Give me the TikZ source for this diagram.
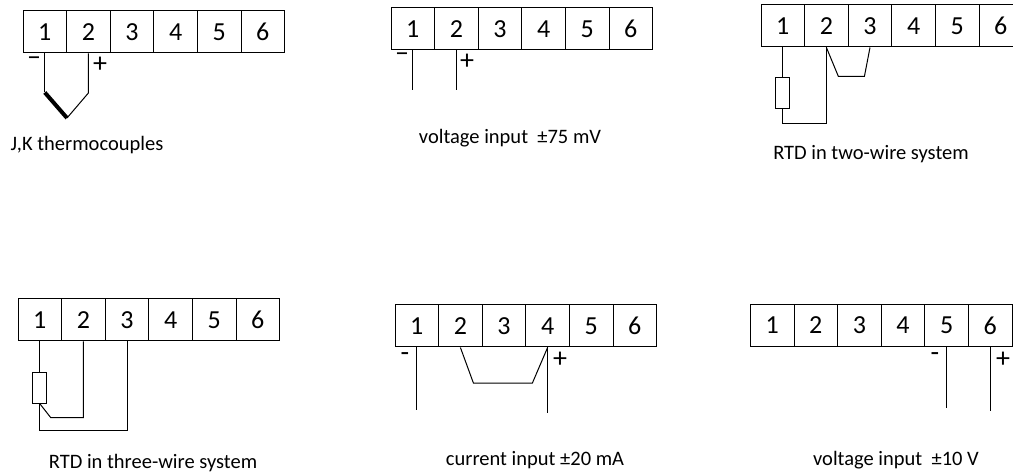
\documentclass[tikz,border=0pt]{standalone}
\usepackage{fontspec}
\setmainfont{Carlito}
\usetikzlibrary{positioning}
\tikzstyle{cell} = [draw, minimum width=43.6pt, minimum height=42pt, inner sep=0pt, font=\fontsize{26}{26}\selectfont]
\tikzstyle{rtd} = [draw, minimum width=14pt, minimum height=31pt, inner sep=0pt]
\tikzstyle{caption} = [font=\fontsize{20.5}{22}\selectfont]
\tikzstyle{pole} = [inner sep=0pt, font=\fontsize{28}{28}\selectfont]

\begin{document}
\begin{tikzpicture}[x=1pt, y=-1pt, line width=1pt]
    \useasboundingbox (0,0) rectangle (1013,473);
    % terminal strips
    \foreach \i in {1,...,6} {
        \node[cell] (tc\i) at ({23+(\i-0.5)*43.6},32) {\i};
        \node[cell] (mv\i) at ({391+(\i-0.5)*43.6},29) {\i};
        \node[cell] (rtw\i) at ({761+(\i-0.5)*43.6},26) {\i};
        \node[cell] (rth\i) at ({18+(\i-0.5)*43.6},320) {\i};
        \node[cell] (cur\i) at ({395+(\i-0.5)*43.6},326) {\i};
        \node[cell] (vol\i) at ({750.4+(\i-0.5)*43.6},325.5) {\i};
    }

    % J,K thermocouples
    \coordinate (tcj) at (67,118);
    \draw (tc1.south) -- ++(0,39) coordinate (tcn);
    \draw[line width=4pt] (tcn) -- (tcj);
    \draw (tcj) -- (tc2.south |- 0,93) -- (tc2.south);
    \node[pole] (tcm) at (34,61) {–};
    \node[pole] (tcp) at (100,65) {+};
    \node[caption] (tct) at (87,145) {J,K thermocouples};

    % voltage input 75 mV
    \draw (mv1.south) -- ++(0,40) coordinate (mva);
    \draw (mv2.south) -- ++(0,40) coordinate (mvb);
    \node[pole] (mvm) at (402,57) {–};
    \node[pole] (mvp) at (467,62) {+};
    \node[caption] (mvt) at (510,138.5) {voltage input\ \ ±75 mV};

    % RTD two-wire
    \node[rtd] (rtwr) at (782.8,93.5) {};
    \draw (rtw1.south) -- (rtwr.north);
    \draw (rtwr.south) -- ++(0,13.7) -| (rtw2.south);
    \draw (rtw2.south) -- ++(12,29) -- ++(26,0) -- (rtw3.south);
    \node[caption] (rtwt) at (871,154.5) {RTD in two-wire system};

    % RTD three-wire
    \node[rtd] (rthr) at (39.8,387.7) {};
    \draw (rth1.south) -- (rthr.north);
    \draw (rthr.south) -- ++(11,14) -| (rth2.south);
    \draw (rthr.south) -- ++(0,26.3) -| (rth3.south);
    \node[caption] (rtht) at (153,463.5) {RTD in three-wire system};

    % current input 20 mA
    \draw (cur1.south) -- ++(0,62) coordinate (cura);
    \draw (cur4.south) -- ++(0,65) coordinate (curb);
    \draw (cur2.south) -- ++(13,35.5) -- ++(59,0) -- (cur4.south);
    \node[pole] (curm) at (405,357) {-};
    \node[pole] (curp) at (560,360) {+};
    \node[caption] (curt) at (535,460) {current input ±20 mA};

    % voltage input 10 V
    \draw (vol5.south) -- ++(0,61) coordinate (vola);
    \draw (vol6.south) -- ++(0,64) coordinate (volb);
    \node[pole] (volm) at (935,357) {-};
    \node[pole] (volp) at (1003,360) {+};
    \node[caption] (volt) at (896,460) {voltage input\ \ ±10 V};
\end{tikzpicture}
\end{document}
